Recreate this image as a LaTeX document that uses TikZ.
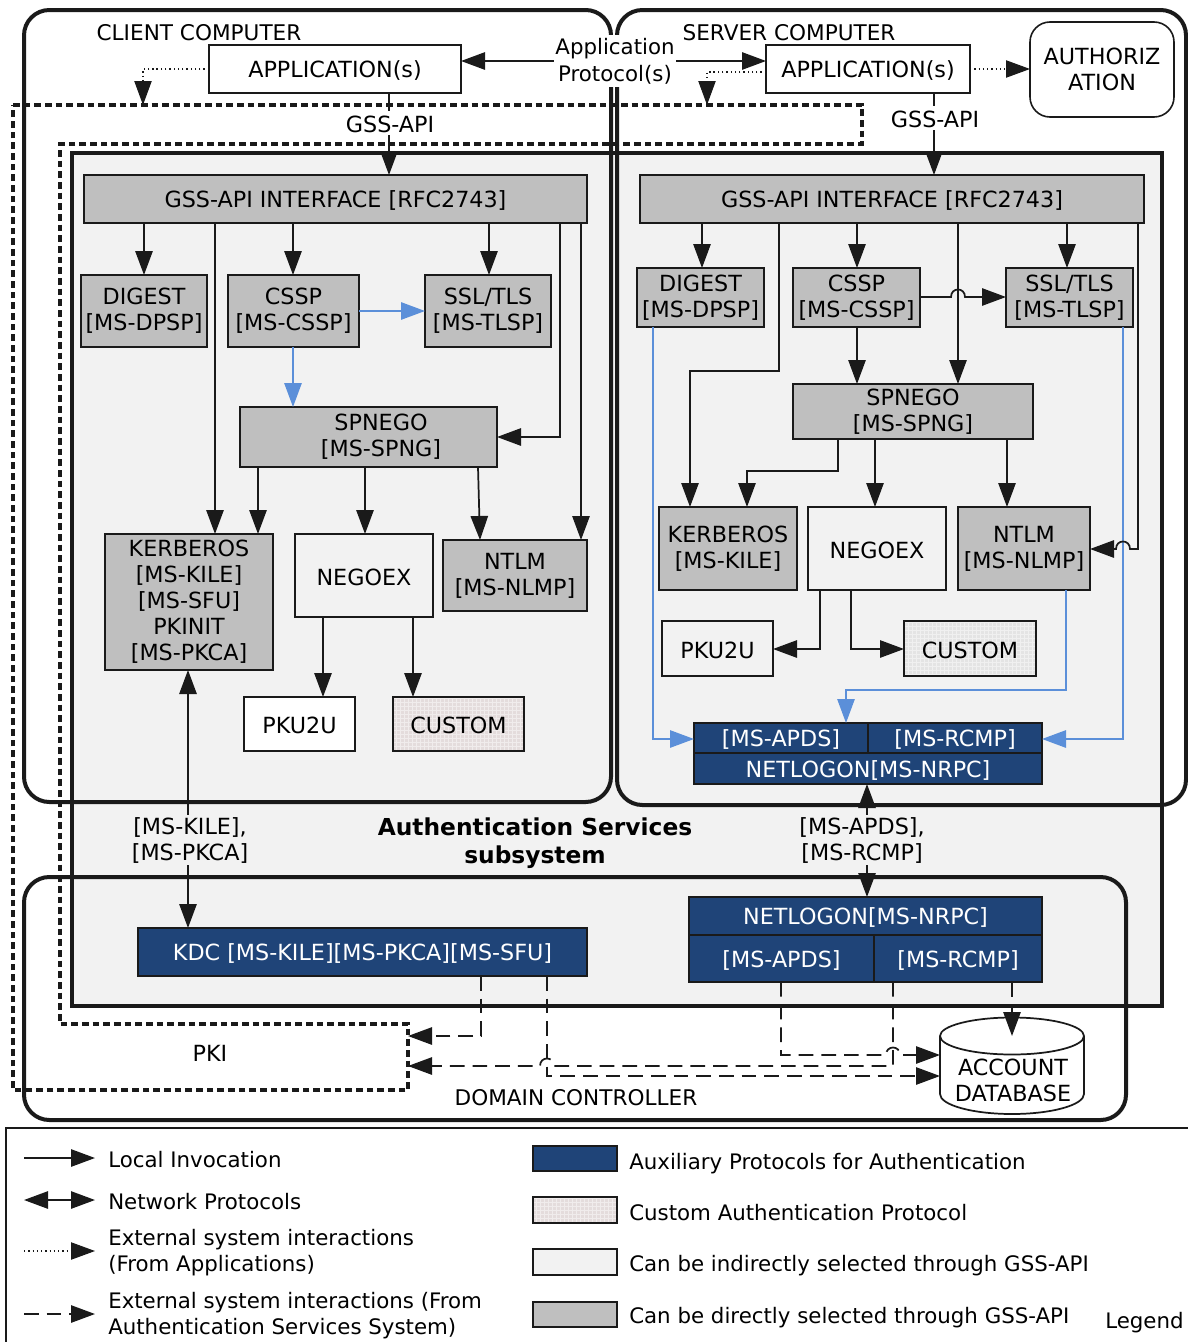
\documentclass[tikz,border=0pt]{standalone}
\usepackage{fontspec}
\setmainfont{DejaVu Sans}
\usetikzlibrary{arrows.meta,patterns}
\definecolor{bgray}{HTML}{BFBFBF}
\definecolor{lgray}{HTML}{F2F2F2}
\definecolor{nblue}{HTML}{1F4478}
\definecolor{lblue}{HTML}{5B8FD9}
\definecolor{ink}{HTML}{1A1A1A}
\definecolor{cusa}{HTML}{E4DCDC}
\definecolor{cusb}{HTML}{E4E4E4}
\newcommand\bx[7][]{\node[#2,#1,minimum width={(#5-#3)*0.75pt},minimum height={(#6-#4)*0.75pt}] (#7) at ({(#3+#5)/2},{(#4+#6)/2})}
\tikzset{
  txt/.style={font=\fontsize{16.7}{19.5}\selectfont,align=center,text=black,inner sep=0pt,execute at begin node={\leavevmode\rule{0pt}{15pt}}},
  base/.style={txt,draw=ink,line width=1.5pt,outer sep=0pt},
  dgray/.style={base,fill=bgray},
  igray/.style={base,fill=lgray},
  wbox/.style={base,fill=white,line width=1.2pt},
  blue/.style={base,fill=nblue,text=white},
  custA/.style={base,preaction={fill=#1},pattern=grid,pattern color=#1!55!white},
  lab/.style={txt,fill=#1,inner xsep=1pt,inner ysep=1.5pt},
  lab/.default=white,
  legt/.style={txt,anchor=west,align=left,font=\fontsize{16}{19.5}\selectfont},
  cont/.style={draw=ink,line width=3pt,rounded corners=19pt},
  pki/.style={draw=ink,line width=3pt,dash pattern=on 5pt off 3pt},
  arr/.style={draw=ink,line width=1.3pt,-{Triangle[length=18pt,width=13pt]}},
  barr/.style={draw=ink,line width=1.3pt,{Triangle[length=18pt,width=13pt]}-{Triangle[length=18pt,width=13pt]}},
  barrow/.style={draw=lblue,line width=1.3pt,-{Triangle[length=18pt,width=13pt]}},
  dotarr/.style={arr,dash pattern=on 1pt off 2.2pt,line width=.8pt},
  dasharr/.style={arr,dash pattern=on 11pt off 6pt},
  dashln/.style={draw=ink,line width=1.3pt,dash pattern=on 11pt off 6pt},
}
\begin{document}
\begin{tikzpicture}[x=0.75pt,y=-0.75pt]
\useasboundingbox (0,0) rectangle (1188,1342);
% containers
\bx[draw=ink,line width=2.6pt,fill=lgray,outer sep=0pt]{txt}{72}{153}{1162}{1006}{subsys} {};
\bx[outer sep=0pt]{cont}{24}{10}{611}{802}{client} {};
\bx[outer sep=0pt]{cont}{617}{10}{1186}{805}{server} {};
\bx[outer sep=0pt]{cont}{24}{877}{1126}{1120}{dc} {};
\draw[pki] (13,105) -- (862,105) -- (862,144) -- (60,144) -- (60,1024) -- (408,1024) -- (408,1090) -- (13,1090) -- cycle;
\coordinate (pkiE) at (408,1050);
\coordinate (pkiT) at (143,105);
\coordinate (pkiS) at (707,105);
% titles
\node[txt,font=\fontsize{16.2}{19.5}\selectfont] (tclient) at (199,31) {CLIENT COMPUTER};
\node[txt,font=\fontsize{16.2}{19.5}\selectfont] (tserver) at (789,31) {SERVER COMPUTER};
\node[txt,font=\fontsize{17.5}{21.5}\bfseries\selectfont] (tauth) at (535,843) {Authentication Services\\subsystem};
\node[txt,font=\fontsize{16.2}{19.5}\selectfont] (tdc) at (576,1096) {DOMAIN CONTROLLER};
\node[txt] (tpki) at (210,1051) {PKI};
\node[txt,fill=white,inner xsep=1pt,inner ysep=2pt,font=\fontsize{16}{20}\selectfont] (proto) at (615,61) {Application\\Protocol(s)};
% client boxes
\bx{wbox}{209}{45}{461}{93}{capp} {APPLICATION(s)};
\bx{dgray}{84}{175}{587}{223}{cgi} {GSS-API INTERFACE [RFC2743]};
\bx{dgray}{81}{275}{207}{347}{cdig} {DIGEST\\{[MS-DPSP]}};
\bx{dgray}{228}{275}{359}{347}{ccssp} {CSSP\\{[MS-CSSP]}};
\bx{dgray}{425}{275}{551}{347}{cssl} {SSL/TLS\\{[MS-TLSP]}};
\bx{dgray}{240}{407}{497}{467}{cspn} {};
\node[txt] (cspnt) at (381,437) {SPNEGO\\{[MS-SPNG]}};
\bx{dgray}{105}{534}{273}{670}{ckrb} {KERBEROS\\{[MS-KILE]}\\{[MS-SFU]}\\PKINIT\\{[MS-PKCA]}};
\bx{igray}{295}{534}{433}{617}{cneg} {NEGOEX};
\bx{dgray}{443}{540}{587}{611}{cntl} {NTLM\\{[MS-NLMP]}};
\bx{wbox}{244}{697}{355}{751}{cpku} {PKU2U};
\bx{custA=cusa}{393}{697}{524}{751}{ccus} {CUSTOM};
% server boxes
\bx{wbox}{766}{45}{970}{93}{sapp} {APPLICATION(s)};
\bx[rounded corners=15pt,line width=1.2pt]{base}{1030}{22}{1174}{117}{authz} {AUTHORIZ\\ATION};
\bx{dgray}{640}{175}{1144}{223}{sgi} {GSS-API INTERFACE [RFC2743]};
\bx{dgray}{637}{268}{764}{327}{sdig} {DIGEST\\{[MS-DPSP]}};
\bx{dgray}{793}{268}{920}{327}{scssp} {CSSP\\{[MS-CSSP]}};
\bx{dgray}{1006}{268}{1133}{327}{sssl} {SSL/TLS\\{[MS-TLSP]}};
\bx{dgray}{793}{384}{1033}{439}{sspn} {SPNEGO\\{[MS-SPNG]}};
\bx{dgray}{659}{507}{797}{590}{skrb} {KERBEROS\\{[MS-KILE]}};
\bx{igray}{808}{507}{946}{590}{sneg} {NEGOEX};
\bx{dgray}{958}{507}{1090}{590}{sntl} {NTLM\\{[MS-NLMP]}};
\bx{igray}{662}{621}{773}{676}{spku} {PKU2U};
\bx{custA=cusb}{904}{621}{1036}{676}{scus} {CUSTOM};
\bx{blue}{694}{723}{868}{753}{sapds} {[MS-APDS]};
\bx{blue}{868}{723}{1042}{753}{srcmp} {[MS-RCMP]};
\bx{blue}{694}{753}{1042}{784}{snet} {NETLOGON[MS-NRPC]};
% DC boxes
\bx{blue}{138}{928}{587}{976}{kdc} {KDC [MS-KILE][MS-PKCA][MS-SFU]};
\bx{blue}{689}{897}{1042}{935}{dnet} {NETLOGON[MS-NRPC]};
\bx{blue}{689}{935}{874}{982}{dapds} {[MS-APDS]};
\bx{blue}{874}{935}{1042}{982}{drcmp} {[MS-RCMP]};
% database cylinder
\draw[draw=ink,line width=1.3pt,fill=white] (940,1036) .. controls (940,1025.8) and (972.2,1017.5) .. (1012,1017.5) .. controls (1051.8,1017.5) and (1084,1025.8) .. (1084,1036) -- (1084,1094) .. controls (1084,1105) and (1051.8,1114) .. (1012,1114) .. controls (972.2,1114) and (940,1105) .. (940,1094) -- cycle;
\draw[draw=ink,line width=1.3pt] (940,1036) .. controls (940,1046.2) and (972.2,1054.5) .. (1012,1054.5) .. controls (1051.8,1054.5) and (1084,1046.2) .. (1084,1036);
\bx[outer sep=0pt]{txt}{940}{1017}{1084}{1114}{db} {};
\coordinate (dbTop) at (1012,1036);
\node[txt] (dbt) at (1013,1080) {ACCOUNT\\DATABASE};
% client connectors
\draw[arr] (proto.west |- 0,61) -- (capp.east |- 0,61);
\draw[arr] (proto.east |- 0,61) -- (sapp.west |- 0,61);
\draw[arr] (capp.south -| 389,0) -- (cgi.north -| 389,0);
\node[lab] (cgss) at (390,123) {GSS-API};
\draw[dotarr] (capp.west |- 0,69) -- (143,69) -- (pkiT);
\draw[arr] (cgi.south -| 144,0) -- (cdig.north -| 144,0);
\draw[arr] (cgi.south -| 293,0) -- (ccssp.north -| 293,0);
\draw[arr] (cgi.south -| 489,0) -- (cssl.north -| 489,0);
\draw[arr] (cgi.south -| 215,0) -- (ckrb.north -| 215,0);
\draw[arr] (cgi.south -| 560,0) -- (560,437) -- (cspn.east |- 0,437);
\draw[arr] (cgi.south -| 581,0) -- (cntl.north -| 581,0);
\draw[barrow] (ccssp.east |- 0,311) -- (cssl.west |- 0,311);
\draw[barrow] (ccssp.south -| 293,0) -- (cspn.north -| 293,0);
\draw[arr] (cspn.south -| 258,0) -- (ckrb.north -| 258,0);
\draw[arr] (cspn.south -| 365,0) -- (cneg.north -| 365,0);
\draw[arr] (cspn.south -| 478,0) -- (cntl.north -| 480,0);
\draw[arr] (cneg.south -| 323,0) -- (cpku.north -| 323,0);
\draw[arr] (cneg.south -| 413,0) -- (ccus.north -| 413,0);
\draw[barr] (ckrb.south -| 188,0) -- (kdc.north -| 188,0);
\node[lab=lgray] (lkile) at (190,840) {[MS-KILE],\\{[MS-PKCA]}};
% server connectors
\draw[arr] (sapp.south -| 934,0) -- (sgi.north -| 934,0);
\node[lab] (sgss) at (935,118) {GSS-API};
\draw[dotarr] (sapp.west |- 0,72) -- (707,72) -- (pkiS);
\draw[dotarr] (sapp.east |- 0,69) -- (authz.west |- 0,69);
\draw[arr] (sgi.south -| 702,0) -- (sdig.north -| 702,0);
\draw[arr] (sgi.south -| 857,0) -- (scssp.north -| 857,0);
\draw[arr] (sgi.south -| 1067,0) -- (sssl.north -| 1067,0);
\draw[arr] (sgi.south -| 958,0) -- (sspn.north -| 958,0);
\draw[arr] (scssp.south -| 857,0) -- (sspn.north -| 857,0);
\draw[arr] (sgi.south -| 779,0) -- (779,371) -- (690,371) -- (skrb.north -| 690,0);
\draw[arr] (scssp.east |- 0,297) -- (951,297) .. controls (951,287) and (965,287) .. (965,297) -- (sssl.west |- 0,297);
\draw[arr] (sspn.south -| 838,0) -- (838,471) -- (747,471) -- (skrb.north -| 747,0);
\draw[arr] (sspn.south -| 875,0) -- (sneg.north -| 875,0);
\draw[arr] (sspn.south -| 1007,0) -- (sntl.north -| 1007,0);
\draw[arr] (sneg.south -| 820,0) -- (820,649) -- (spku.east |- 0,649);
\draw[arr] (sneg.south -| 851,0) -- (851,649) -- (scus.west |- 0,649);
\draw[barrow] (sdig.south -| 653,0) -- (653,739) -- (sapds.west |- 0,739);
\draw[barrow] (sssl.south -| 1123,0) -- (1123,739) -- (srcmp.east |- 0,739);
\draw[barrow] (sntl.south -| 1066,0) -- (1066,690) -- (846,690) -- (sapds.north -| 846,0);
\draw[arr] (sgi.south -| 1138,0) -- (1138,549) -- (1130,549) .. controls (1130,539) and (1116,539) .. (1116,549) -- (sntl.east |- 0,549);
\draw[barr] (snet.south -| 867,0) -- (dnet.north -| 867,0);
\node[lab=lgray] (lapds) at (862,840) {[MS-APDS],\\{[MS-RCMP]}};
% dashed connectors
\draw[dasharr] (kdc.south -| 481,0) -- (481,1036) -- (pkiE |- 0,1036);
\draw[dasharr] (kdc.south -| 547,0) -- (547,1076) -- (db.west |- 0,1076);
\draw[dashln,-{Triangle[length=18pt,width=13pt]}] (drcmp.south -| 893,0) -- (893,1066) -- (554,1066) .. controls (554,1056) and (540,1056) .. (540,1066) -- (pkiE |- 0,1066);
\draw[dasharr] (dapds.south -| 781,0) -- (781,1055) -- (886,1055) .. controls (886,1045) and (900,1045) .. (900,1055) -- (db.west |- 0,1055);
\draw[dasharr] (drcmp.south -| 1012,0) -- (dbTop);
% legend
\coordinate (lgTL) at (6,1128);
\coordinate (lgTR) at (1188,1128);
\coordinate (lgBL) at (6,1342);
\draw[draw=ink,line width=1pt] (lgBL) -- (lgTL) -- (lgTR);
\coordinate (a1) at (24,1158); \coordinate (b1) at (95,1158);
\coordinate (a2) at (24,1200); \coordinate (b2) at (95,1200);
\coordinate (a3) at (24,1251); \coordinate (b3) at (95,1251);
\coordinate (a4) at (24,1314); \coordinate (b4) at (95,1314);
\draw[arr] (a1) -- (b1);
\draw[barr] (a2) -- (b2);
\draw[dotarr] (a3) -- (b3);
\draw[dasharr] (a4) -- (b4);
\node[legt] (t1) at (108,1158) {Local Invocation};
\node[legt] (t2) at (108,1200) {Network Protocols};
\node[legt] (t3) at (108,1253) {External system interactions\\(From Applications)};
\node[legt] (t4) at (108,1316) {External system interactions (From\\Authentication Services System)};
\bx[line width=1.2pt]{blue}{533}{1146}{617}{1171}{s1} {};
\bx[line width=1.2pt]{custA=cusa}{533}{1197}{617}{1223}{s2} {};
\bx[line width=1.2pt]{igray}{533}{1249}{617}{1275}{s3} {};
\bx[line width=1.2pt]{dgray}{533}{1302}{617}{1327}{s4} {};
\node[legt] (u1) at (629,1162) {Auxiliary Protocols for Authentication};
\node[legt] (u2) at (629,1211) {Custom Authentication Protocol};
\node[legt] (u3) at (629,1264) {Can be indirectly selected through GSS-API};
\node[legt] (u4) at (629,1316) {Can be directly selected through GSS-API};
\node[legt] (u5) at (1105,1321) {Legend};
\end{tikzpicture}
\end{document}
